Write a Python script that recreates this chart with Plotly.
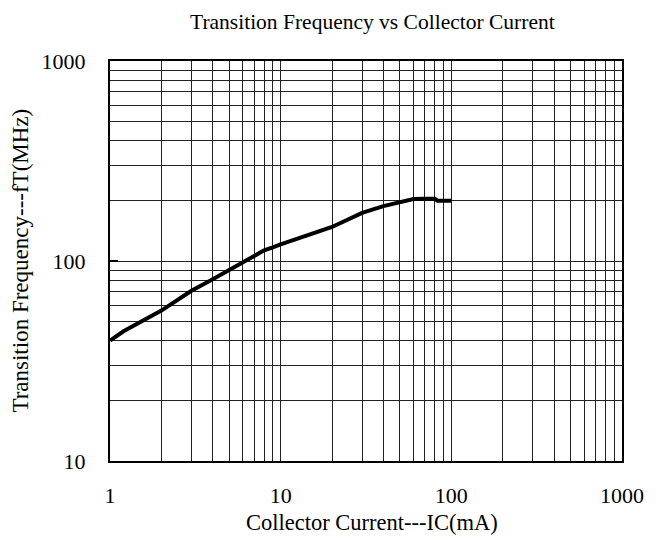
import plotly.graph_objects as go

ic_ma = [1, 1.2, 2, 3, 4, 5, 6, 7, 8, 9, 10, 20, 30, 40, 50, 60, 70, 80, 83, 90, 100]
ft_mhz = [40, 44.5, 56.5, 71, 81, 90, 99, 106, 113, 117, 121, 148, 174, 188, 197, 204, 205, 205, 200, 200, 200]

x_major = [1, 10, 100, 1000]
x_labels = ["1", "10", "100", "1000"]
y_major = [10, 100, 1000]
y_labels = ["10", "100", "1000"]

x_minor = [m * d for d in (1, 10, 100) for m in range(2, 10)]
y_minor = [m * d for d in (10, 100) for m in range(2, 10)]

font = "Liberation Serif"
grid_col = "#222222"

fig = go.Figure()
fig.add_trace(go.Scatter(x=ic_ma, y=ft_mhz, mode="lines",
                         line=dict(color="black", width=4), showlegend=False))

fig.update_layout(
    width=656, height=540,
    margin=dict(l=110, r=25, t=61, b=79),
    paper_bgcolor="white", plot_bgcolor="white",
    font=dict(family=font, color="black"),
    annotations=[
        dict(text="Transition Frequency vs Collector Current", xref="paper", yref="paper",
             x=0.5125, y=1.0975, xanchor="center", yanchor="middle", showarrow=False,
             font=dict(family=font, size=21.5, color="black")),
        dict(text="Collector Current---IC(mA)", xref="paper", yref="paper",
             x=0.5125, y=-0.1525, xanchor="center", yanchor="middle", showarrow=False,
             font=dict(family=font, size=22.5, color="black")),
        dict(text="Transition Frequency---fT(MHz)", xref="paper", yref="paper",
             x=-0.1766, y=0.5, xanchor="center", yanchor="middle", showarrow=False,
             textangle=-90, font=dict(family=font, size=23, color="black")),
    ],
)
fig.update_xaxes(
    type="log", range=[0, 3],
    tickvals=x_major, ticktext=x_labels, ticks="", ticklabelstandoff=14,
    tickfont=dict(family=font, size=22, color="black"),
    showgrid=True, gridcolor=grid_col, gridwidth=1,
    minor=dict(tickvals=x_minor, showgrid=True, gridcolor=grid_col, gridwidth=1, ticks=""),
    showline=True, linecolor="black", linewidth=1.5, mirror=True,
    zeroline=False,
)
fig.update_yaxes(
    type="log", range=[1, 3],
    tickvals=y_major, ticktext=y_labels, ticks="inside", ticklen=8, tickwidth=2,
    tickcolor="black", ticklabelstandoff=18,
    tickfont=dict(family=font, size=22, color="black"),
    showgrid=True, gridcolor=grid_col, gridwidth=1,
    minor=dict(tickvals=y_minor, showgrid=True, gridcolor=grid_col, gridwidth=1, ticks=""),
    showline=True, linecolor="black", linewidth=2, mirror=True,
    zeroline=False,
)
fig.write_html("out.html", config={"displayModeBar": False},
               post_script="document.body.style.margin='0';")
